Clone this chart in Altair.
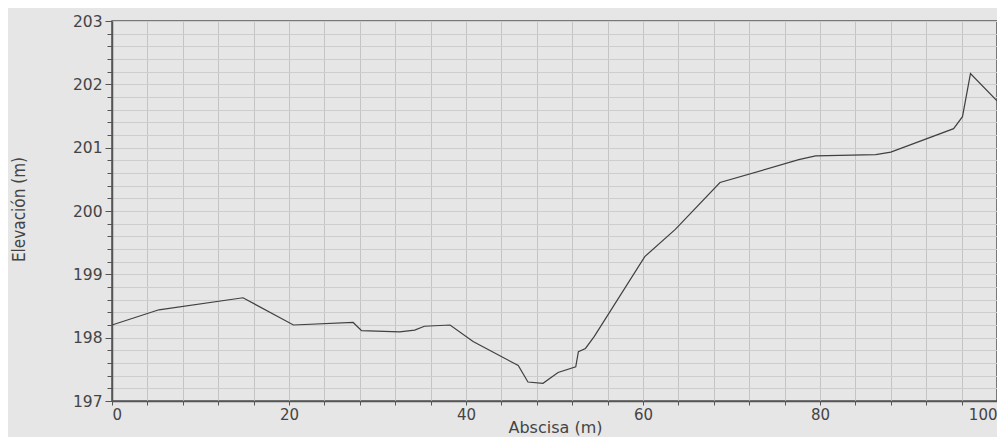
import altair as alt
import pandas as pd

# Profile data
abscisa = [0.0, 5.3, 14.8, 20.5, 27.25, 28.2, 32.5, 34.2, 35.3, 38.2, 40.8,
           45.9, 47.0, 48.7, 50.4, 52.4, 52.7, 53.5, 54.5, 60.2, 63.65,
           68.7, 77.6, 79.5, 86.3, 88.0, 95.1, 96.1, 97.0, 100.0]
elevacion = [198.2, 198.44, 198.63, 198.2, 198.24, 198.11, 198.09, 198.12,
             198.18, 198.2, 197.94, 197.56, 197.3, 197.28, 197.45, 197.54,
             197.78, 197.83, 198.02, 199.28, 199.71, 200.45, 200.81, 200.87,
             200.89, 200.93, 201.30, 201.49, 202.17, 201.74]

x_ticks = list(range(0, 101, 4))
y_ticks = [round(197 + 0.2 * k, 1) for k in range(31)]

df = pd.DataFrame({"Abscisa": abscisa, "Elevacion": elevacion})

BG = "#e6e6e6"
FONT = "DejaVu Sans"
INT_TEST = "abs(datum.value - round(datum.value)) < 0.01"

chart = alt.Chart(df).mark_line(color="#404040", strokeWidth=1.2).encode(
    x=alt.X("Abscisa:Q",
            scale=alt.Scale(domain=[0, 100], nice=False, zero=False),
            axis=alt.Axis(
                title="Abscisa (m)",
                values=x_ticks,
                format="d",
                labelExpr="datum.value % 20 === 0 ? datum.label : ''",
                grid=True, gridColor="#c4c4c4", gridWidth=1,
                domainColor="#555555", domainWidth=1.5,
                tickColor="#555555", tickSize=4,
                labelFont=FONT, labelFontSize=15, labelColor="#444444",
                labelPadding=2,
                titleFont=FONT, titleFontSize=16, titleFontWeight="normal",
                titleColor="#444444", titleX=443, titleY=31,
                titleBaseline="alphabetic",
            )),
    y=alt.Y("Elevacion:Q",
            scale=alt.Scale(domain=[197, 203], nice=False, zero=False),
            axis=alt.Axis(
                title="Elevación (m)",
                values=y_ticks,
                format=".0f",
                labelExpr=INT_TEST + " ? datum.label : ''",
                grid=True, gridColor="#cdcdcd", gridWidth=1,
                domainColor="#555555", domainWidth=1.5,
                tickColor="#555555",
                tickSize={"condition": {"test": INT_TEST, "value": 7}, "value": 5},
                labelFont=FONT, labelFontSize=15.5, labelColor="#444444",
                labelPadding=3,
                titleFont="DejaVu Sans Condensed, Liberation Sans Narrow, Liberation Sans",
                titleFontSize=17,
                titleFontWeight="normal", titleColor="#444444",
                titleX=-84, titleY=188, titleAngle=270,
                titleBaseline="bottom", titleAlign="center",
            )),
).properties(
    width=885, height=380,
    background=BG,
    padding={"left": 104, "top": 13, "right": 0, "bottom": 36},
    autosize=alt.AutoSizeParams(type="none"),
).configure_view(
    fill=BG, stroke="#555555", strokeWidth=1.5
)

chart.save("out.html", embed_options={"renderer": "svg", "actions": False})
